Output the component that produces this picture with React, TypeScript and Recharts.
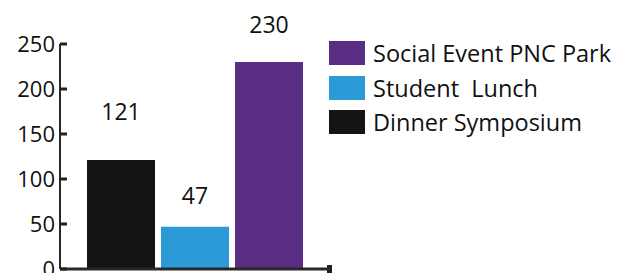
import React from 'react';
import * as Recharts from 'recharts';
import { BarChart, Bar, XAxis, YAxis, Legend, LabelList } from 'recharts';

const categories = ['Attendance'];
const seriesNames = ['Dinner Symposium', 'Student  Lunch', 'Social Event PNC Park'];
const seriesValues = [121, 47, 230];
const yTicks = [0, 50, 100, 150, 200, 250];

const seriesColors = ['#151314', '#2b9ad6', '#582d82'];
const labelOffsets = [40, 23, 29];
const FONT = '"Open Sans", "Noto Sans", sans-serif';

const data = categories.map((c) => {
  const row: any = { name: c };
  seriesNames.forEach((s, i) => {
    row['s' + i] = seriesValues[i];
  });
  return row;
});

const AxisEnd = () => {
  const hook = (Recharts as any).usePlotArea;
  const area = hook ? hook() : null;
  if (!area) return null;
  return (
    <rect x={area.x + area.width - 3} y={area.y + area.height - 4} width={5} height={8} fill="#231f20" />
  );
};

const LegendContent = (props: any) => {
  const payload = props.payload || [];
  const items = [...seriesNames].reverse().map((n) => {
    const p = payload.find((q: any) => q.value === n);
    return { value: n, color: p ? p.color : seriesColors[seriesNames.indexOf(n)] };
  });
  return (
    <div style={{ fontFamily: FONT }}>
      {items.map((it: any) => (
        <div key={it.value} style={{ display: 'flex', alignItems: 'center', height: 34.5 }}>
          <div style={{ width: 36, height: 24, background: it.color, marginRight: 8 }} />
          <span style={{ fontSize: 23.5, color: '#111', whiteSpace: 'pre' }}>{it.value}</span>
        </div>
      ))}
    </div>
  );
};

export default function App() {
  return (
    <div style={{ position: 'absolute', left: 0, top: 0, width: 620, height: 273, background: '#fff', overflow: 'hidden' }}>
      <BarChart
        width={620}
        height={273}
        data={data}
        margin={{ top: 44, right: 290, bottom: 3, left: 0 }}
        barCategoryGap="10%"
        barGap={6}
      >
        <XAxis dataKey="name" tick={false} tickLine={false} height={1} axisLine={{ stroke: '#2a2728', strokeWidth: 3 }} />
        <YAxis
          width={60}
          domain={[0, 250]}
          ticks={yTicks}
          interval={0}
          tickSize={-7}
          tickMargin={12}
          axisLine={{ stroke: '#2a2728', strokeWidth: 2 }}
          tickLine={{ stroke: '#231f20', strokeWidth: 3 }}
          tick={{ fill: '#111', fontSize: 22, fontFamily: FONT }}
        />
        <Legend
          layout="vertical"
          align="center"
          verticalAlign="middle"
          content={<LegendContent />}
          wrapperStyle={{ position: 'absolute', left: 329, top: 36, width: 290 }}
        />
        {seriesNames.map((s, i) => (
          <Bar key={s} dataKey={'s' + i} name={s} fill={seriesColors[i]} isAnimationActive={false}>
            <LabelList dataKey={'s' + i} position="top" offset={labelOffsets[i]} fill="#111" fontSize={23} fontFamily={FONT} />
          </Bar>
        ))}
        <AxisEnd />
      </BarChart>
    </div>
  );
}
